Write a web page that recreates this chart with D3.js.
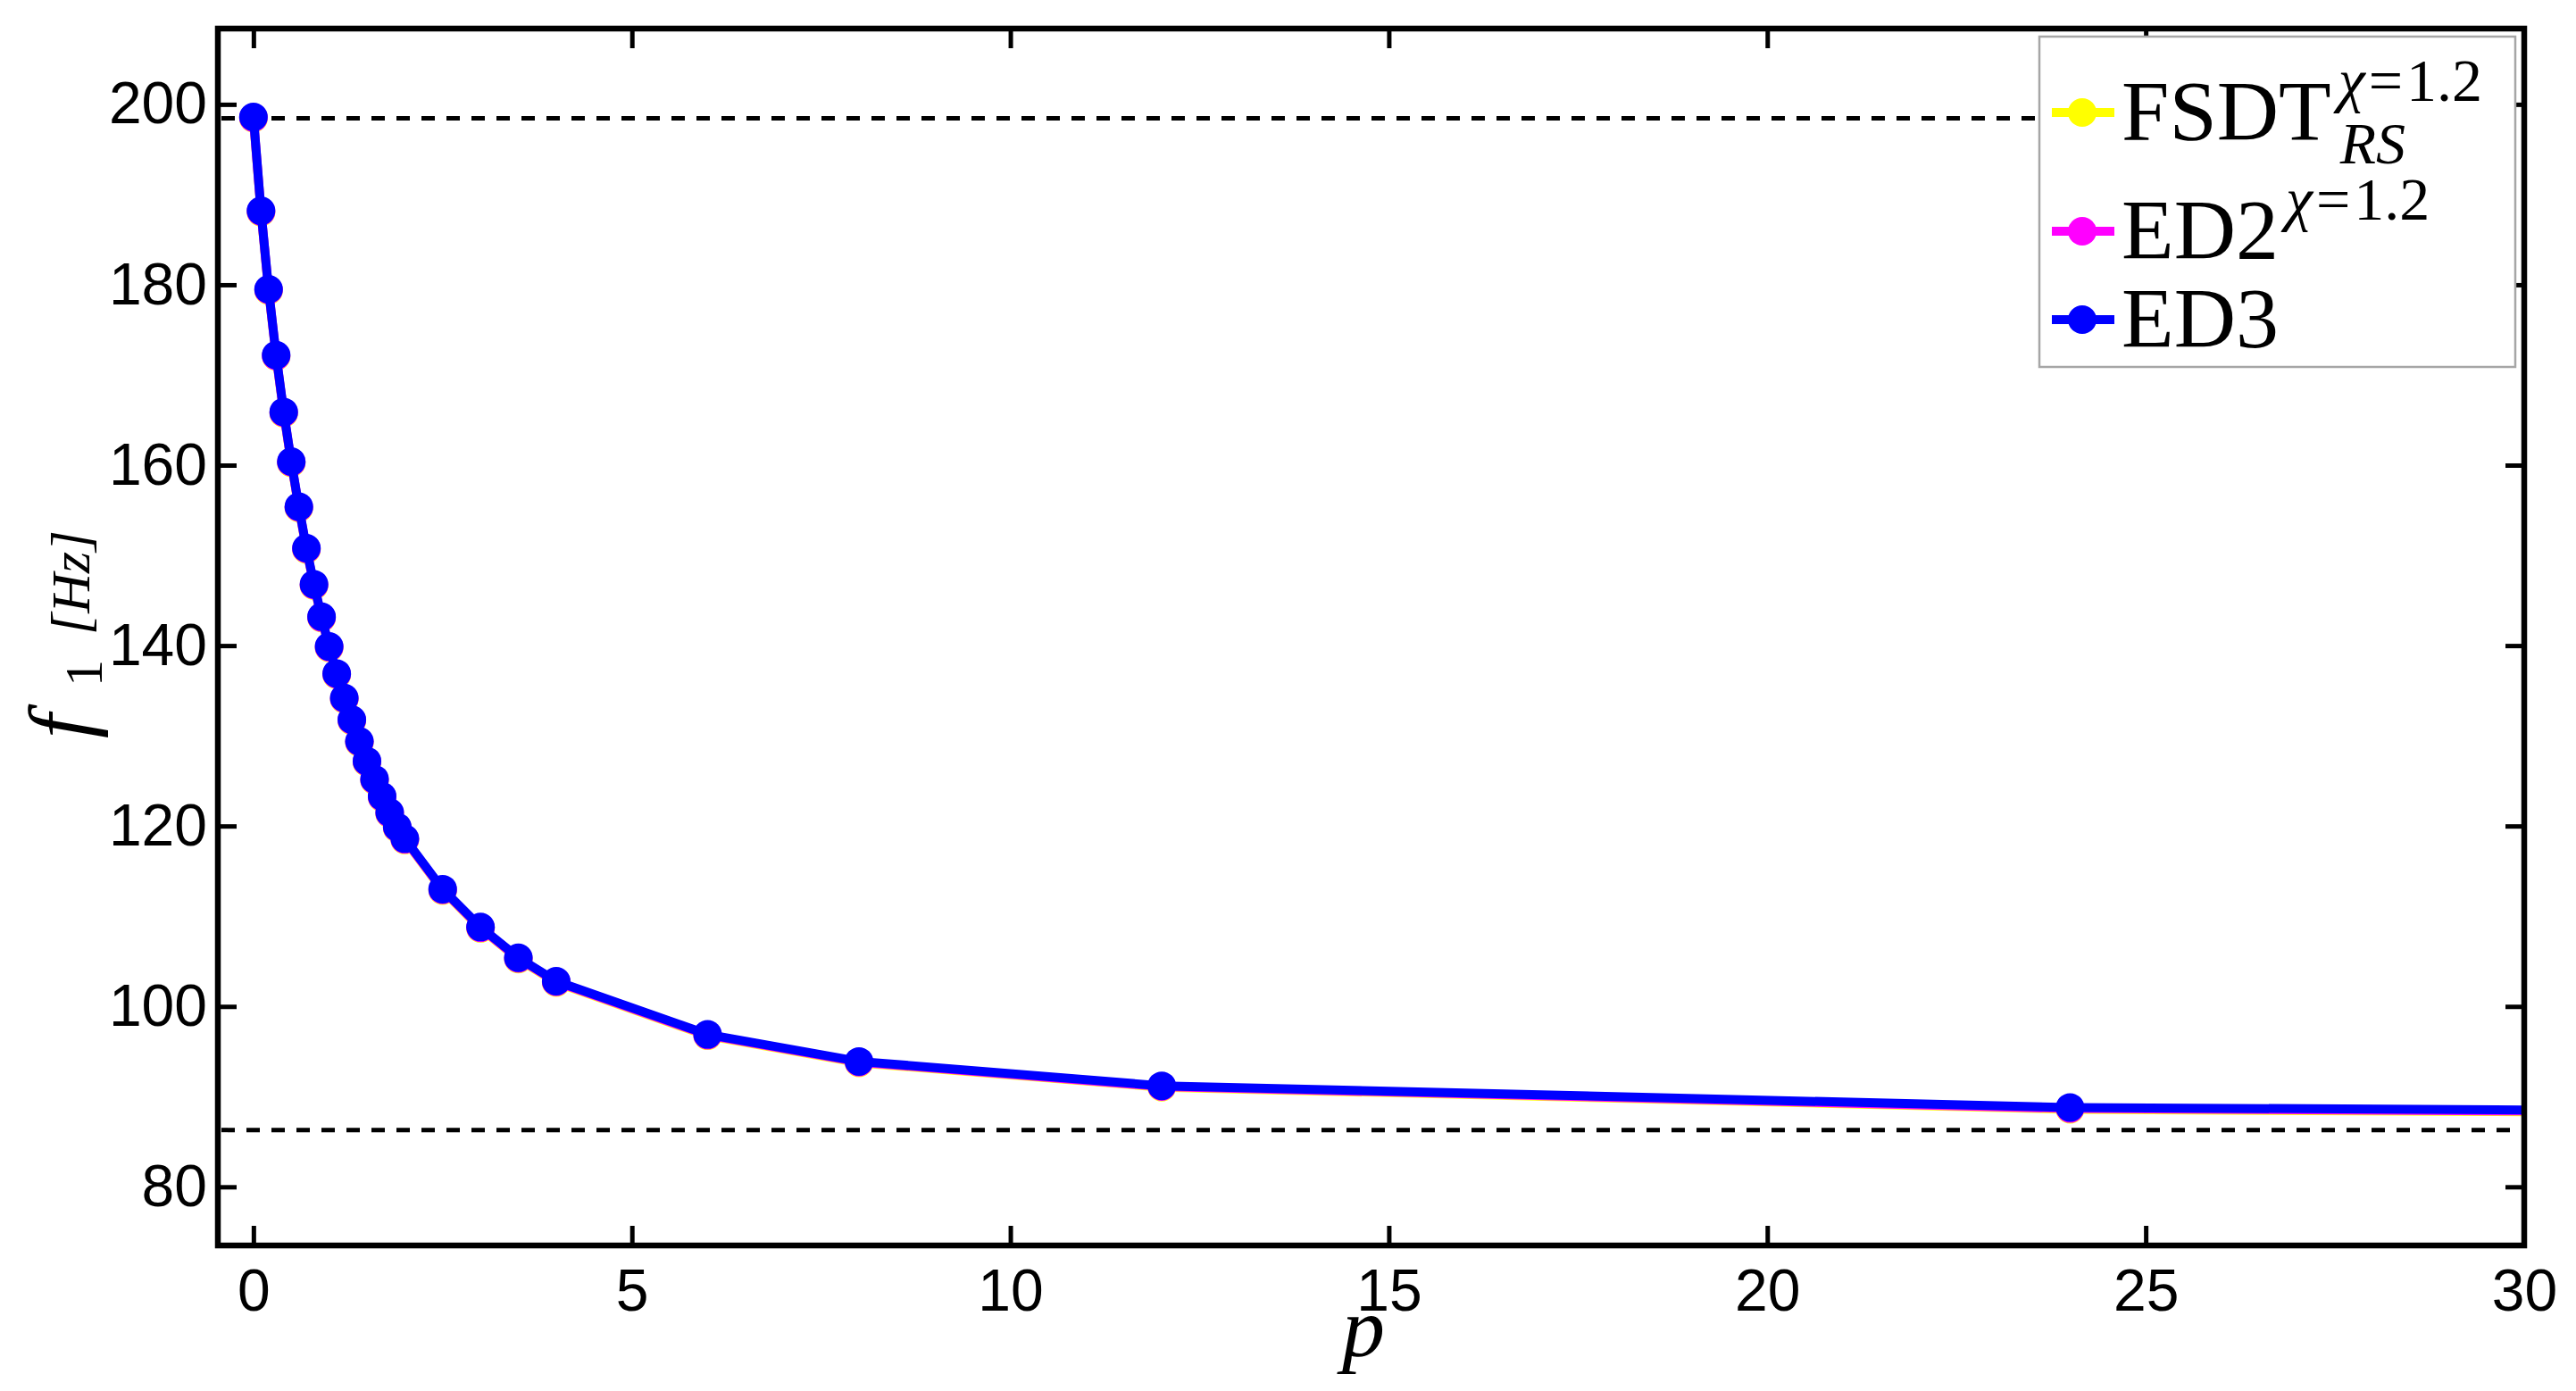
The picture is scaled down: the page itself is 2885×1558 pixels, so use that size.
<!DOCTYPE html>
<html>
<head>
<meta charset="utf-8">
<script src="https://cdn.jsdelivr.net/npm/d3@7"></script>
<style>
  html, body { margin: 0; padding: 0; background: #fff; }
  svg { display: block; }
</style>
</head>
<body>
<div id="chart"></div>
<script>
// data
const pValues = [0, 0.1, 0.2, 0.3, 0.4, 0.5, 0.6, 0.7, 0.8, 0.9, 1.0, 1.1, 1.2, 1.3, 1.4, 1.5, 1.6, 1.7, 1.8, 1.9, 2.0, 2.5, 3, 3.5, 4, 6, 8, 12, 24, 48];
const fsdtValues = [198.45, 188.05, 179.35, 172.05, 165.75, 160.25, 155.25, 150.65, 146.65, 143.05, 139.75, 136.75, 134.05, 131.65, 129.25, 127.05, 125.05, 123.15, 121.35, 119.75, 118.45, 112.85, 108.65, 105.25, 102.65, 96.75, 93.75, 91.05, 88.6, 87.5];
const ed2Values = [198.52, 188.12, 179.42, 172.12, 165.82, 160.32, 155.32, 150.72, 146.72, 143.12, 139.82, 136.82, 134.12, 131.72, 129.32, 127.12, 125.12, 123.22, 121.42, 119.82, 118.52, 112.92, 108.72, 105.32, 102.72, 96.82, 93.82, 91.12, 88.68, 87.6];
const ed3Values = [198.6, 188.2, 179.5, 172.2, 165.9, 160.4, 155.4, 150.8, 146.8, 143.2, 139.9, 136.9, 134.2, 131.8, 129.4, 127.2, 125.2, 123.3, 121.5, 119.9, 118.6, 113.0, 108.8, 105.4, 102.8, 96.9, 93.9, 91.2, 88.8, 87.7];
const refUpper = 198.45;
const refLower = 86.3;
const xTicks = [0, 5, 10, 15, 20, 25, 30];
const yTicks = [80, 100, 120, 140, 160, 180, 200];

// canvas
const width = 2885;
const height = 1558;
const plotLeft = 244, plotRight = 2827, plotTop = 32, plotBottom = 1395;

const x = d3.scaleLinear().domain([-0.47, 30]).range([plotLeft, plotRight]);
const y = d3.scaleLinear().domain([73.5, 208.4]).range([plotBottom, plotTop]);

const series = [
  {values: fsdtValues, color: "#ffff00"},
  {values: ed2Values, color: "#ff00ff"},
  {values: ed3Values, color: "#0000ff"}
];

const svg = d3.select("#chart")
  .append("svg")
  .attr("width", width)
  .attr("height", height);

svg.append("rect").attr("width", width).attr("height", height).attr("fill", "#fff");

svg.append("clipPath").attr("id", "plot")
  .append("rect")
  .attr("x", plotLeft).attr("y", plotTop)
  .attr("width", plotRight - plotLeft).attr("height", plotBottom - plotTop);

// ticks
const tickFont = "'Liberation Sans', Arial, sans-serif";
const styleAxis = (g) => {
  g.select(".domain").remove();
  g.selectAll(".tick line").attr("stroke", "#000").attr("stroke-width", 5);
  g.selectAll(".tick text")
    .attr("fill", "#000")
    .style("font-family", tickFont)
    .style("font-size", "66px");
};

svg.append("g")
  .attr("transform", "translate(0," + plotBottom + ")")
  .call(d3.axisBottom(x).tickValues(xTicks).tickSizeInner(-22).tickSizeOuter(0).tickPadding(26).tickFormat(d3.format("d")))
  .call(styleAxis);
svg.append("g")
  .attr("transform", "translate(0," + plotTop + ")")
  .call(d3.axisTop(x).tickValues(xTicks).tickSizeInner(-22).tickSizeOuter(0).tickFormat(""))
  .call(styleAxis);
svg.append("g")
  .attr("transform", "translate(" + plotLeft + ",0)")
  .call(d3.axisLeft(y).tickValues(yTicks).tickSizeInner(-21).tickSizeOuter(0).tickPadding(12).tickFormat(d3.format("d")))
  .call(styleAxis);
svg.append("g")
  .attr("transform", "translate(" + plotRight + ",0)")
  .call(d3.axisRight(y).tickValues(yTicks).tickSizeInner(-21).tickSizeOuter(0).tickFormat(""))
  .call(styleAxis);

// reference lines
const plot = svg.append("g").attr("clip-path", "url(#plot)");
[refUpper, refLower].forEach(v => {
  plot.append("line")
    .attr("x1", plotLeft + 4).attr("x2", plotRight - 10)
    .attr("y1", y(v)).attr("y2", y(v))
    .attr("stroke", "#000")
    .attr("stroke-width", 5)
    .attr("stroke-dasharray", "15,13");
});

// curves
const line = d3.line().x((d, i) => x(pValues[i])).y(d => y(d));
series.forEach(s => {
  plot.append("path")
    .attr("d", line(s.values))
    .attr("fill", "none")
    .attr("stroke", s.color)
    .attr("stroke-width", 10)
    .attr("stroke-linejoin", "round");
  plot.selectAll(null)
    .data(s.values)
    .enter()
    .append("circle")
    .attr("cx", (d, i) => x(pValues[i]))
    .attr("cy", d => y(d))
    .attr("r", 16)
    .attr("fill", s.color);
});

// frame
svg.append("rect")
  .attr("x", plotLeft).attr("y", plotTop)
  .attr("width", plotRight - plotLeft).attr("height", plotBottom - plotTop)
  .attr("fill", "none")
  .attr("stroke", "#000")
  .attr("stroke-width", 6.5);

// axis labels
const serif = "'Liberation Serif', 'Times New Roman', serif";
svg.append("text")
  .attr("x", 1527)
  .attr("y", 1519)
  .attr("text-anchor", "middle")
  .style("font-family", serif)
  .style("font-style", "italic")
  .style("font-size", "96px")
  .text("p");

// y label reads bottom to top, f at the bottom
const ylab = svg.append("text")
  .attr("transform", "translate(100,837) rotate(-90)")
  .style("font-family", serif);
ylab.append("tspan").attr("x", 10).style("font-style", "italic").style("font-size", "98px").text("f");
ylab.append("tspan").attr("x", 68).attr("dy", 14).style("font-size", "60px").text("1");
ylab.append("tspan").attr("x", 126).attr("dy", -14).style("font-style", "italic").style("font-size", "62px").text("[Hz]");

// legend
const legendX = 2284, legendY = 41, legendW = 533, legendH = 370;
const legendRows = [126, 259, 358];
svg.append("rect")
  .attr("x", legendX).attr("y", legendY)
  .attr("width", legendW).attr("height", legendH)
  .attr("fill", "#fff")
  .attr("stroke", "#a6a6a6")
  .attr("stroke-width", 2.5);

const legendItems = [
  {name: "FSDT", sup: true, sub: "RS"},
  {name: "ED2", sup: true, sub: null},
  {name: "ED3", sup: false, sub: null}
];

legendItems.forEach((item, i) => {
  const cy = legendRows[i];
  const c = series[i].color;
  svg.append("line")
    .attr("x1", 2298).attr("x2", 2368)
    .attr("y1", cy).attr("y2", cy)
    .attr("stroke", c).attr("stroke-width", 10);
  svg.append("circle").attr("cx", 2332).attr("cy", cy).attr("r", 16).attr("fill", c);

  const base = cy + 31;
  const t = svg.append("text")
    .attr("x", 2376).attr("y", base)
    .style("font-family", serif)
    .style("font-size", "96px")
    .text(item.name);
  const w = t.node().getComputedTextLength();
  if (item.sup) {
    const s = svg.append("text")
      .attr("x", 2376 + w + 8).attr("y", base - 44)
      .style("font-family", serif)
      .style("font-size", "68px");
    s.append("tspan").style("font-style", "italic").text("\u03c7");
    s.append("tspan").attr("dx", 4).text("=");
    s.append("tspan").attr("dx", 4).text("1.2");
  }
  if (item.sub) {
    svg.append("text")
      .attr("x", 2376 + w + 10).attr("y", base + 26)
      .style("font-family", serif)
      .style("font-style", "italic")
      .style("font-size", "66px")
      .text(item.sub);
  }
});
</script>
</body>
</html>
